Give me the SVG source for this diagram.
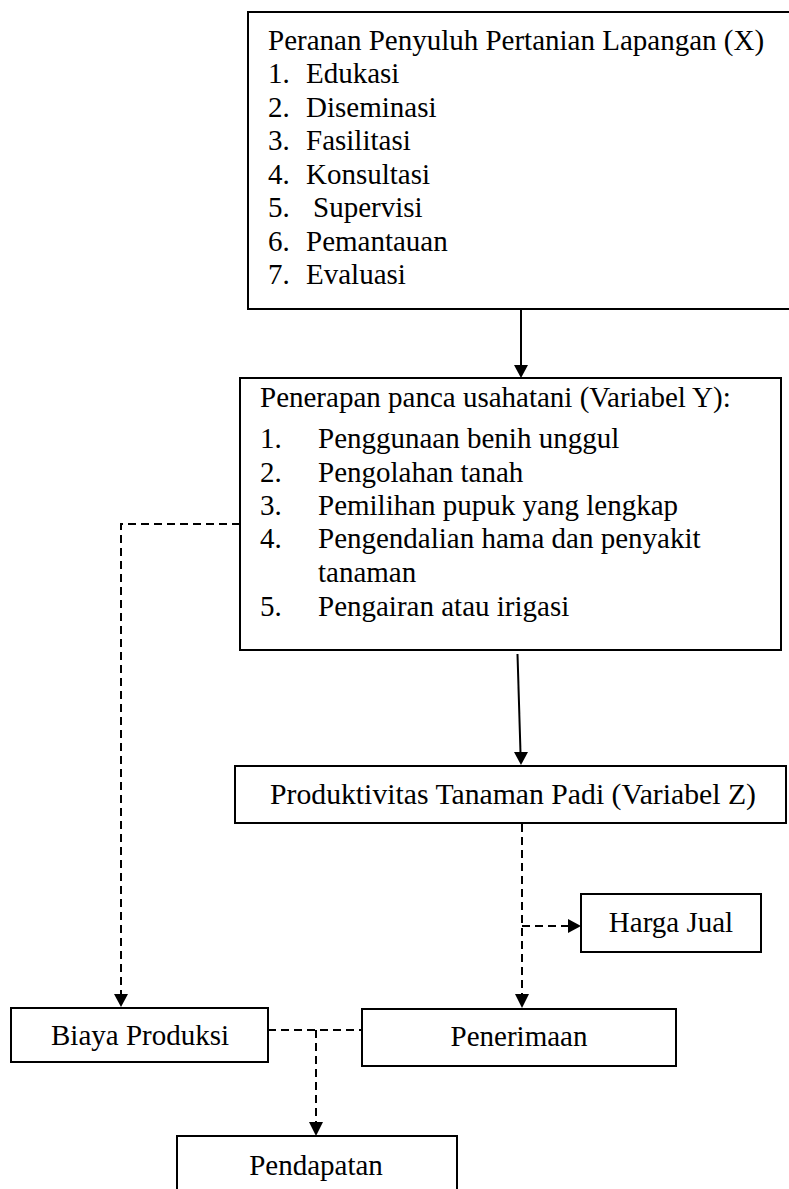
<svg xmlns="http://www.w3.org/2000/svg" width="789" height="1189" viewBox="0 0 789 1189">
<style>
.box{fill:#fff;stroke:#000;stroke-width:2}
.t{font-family:"Liberation Serif","Times New Roman",serif;font-size:29px;fill:#000}
.c{text-anchor:middle}
.solid{stroke:#000;stroke-width:2;fill:none}
.dash{stroke:#000;stroke-width:2;fill:none;stroke-dasharray:8 5}
.head{fill:#000}
</style>
<rect width="789" height="1189" fill="#fff"/>
<g id="connectors">
<line class="solid" x1="521" y1="309" x2="521" y2="366"/>
<polygon class="head" points="514,365 528,365 521,378"/>
<line class="solid" x1="517.5" y1="654" x2="520.5" y2="753"/>
<polygon class="head" points="514,752 528,752 521,765"/>
<polyline class="dash" points="240,524 121,524 121,995"/>
<polygon class="head" points="114,994 128,994 121,1007"/>
<line class="dash" x1="522" y1="824" x2="522" y2="995"/>
<polygon class="head" points="515,994 529,994 522,1008"/>
<line class="dash" x1="522" y1="926" x2="569" y2="926"/>
<polygon class="head" points="568,919 568,933 581,926"/>
<line class="dash" x1="268" y1="1030" x2="362" y2="1030"/>
<line class="dash" x1="316" y1="1030" x2="316" y2="1123"/>
<polygon class="head" points="309,1122 323,1122 316,1136"/>
</g>
<g id="node-x">
<rect class="box" x="248" y="12" width="560" height="297"/>
<text class="t" x="268" y="50">Peranan Penyuluh Pertanian Lapangan (X)</text>
<text class="t" x="268" y="83">1.</text><text class="t" x="306" y="83">Edukasi</text>
<text class="t" x="268" y="117">2.</text><text class="t" x="306" y="117">Diseminasi</text>
<text class="t" x="268" y="150">3.</text><text class="t" x="306" y="150">Fasilitasi</text>
<text class="t" x="268" y="184">4.</text><text class="t" x="306" y="184">Konsultasi</text>
<text class="t" x="268" y="217">5.</text><text class="t" x="313" y="217">Supervisi</text>
<text class="t" x="268" y="251">6.</text><text class="t" x="306" y="251">Pemantauan</text>
<text class="t" x="268" y="284">7.</text><text class="t" x="306" y="284">Evaluasi</text>
</g>
<g id="node-y">
<rect class="box" x="240" y="378" width="541" height="272"/>
<text class="t" x="260" y="407">Penerapan panca usahatani (Variabel Y):</text>
<text class="t" x="260" y="448">1.</text><text class="t" x="318" y="448">Penggunaan benih unggul</text>
<text class="t" x="260" y="482">2.</text><text class="t" x="318" y="482">Pengolahan tanah</text>
<text class="t" x="260" y="515">3.</text><text class="t" x="318" y="515">Pemilihan pupuk yang lengkap</text>
<text class="t" x="260" y="548">4.</text><text class="t" x="318" y="548">Pengendalian hama dan penyakit</text>
<text class="t" x="318" y="582">tanaman</text>
<text class="t" x="260" y="616">5.</text><text class="t" x="318" y="616">Pengairan atau irigasi</text>
</g>
<g id="node-z">
<rect class="box" x="235" y="766" width="551" height="57"/>
<text class="t c" x="513" y="804" textLength="486" lengthAdjust="spacingAndGlyphs">Produktivitas Tanaman Padi (Variabel Z)</text>
</g>
<g id="node-harga">
<rect class="box" x="581" y="894" width="180" height="58"/>
<text class="t c" x="671" y="932">Harga Jual</text>
</g>
<g id="node-biaya">
<rect class="box" x="11" y="1008" width="257" height="54"/>
<text class="t c" x="140" y="1045">Biaya Produksi</text>
</g>
<g id="node-penerimaan">
<rect class="box" x="362" y="1009" width="314" height="57"/>
<text class="t c" x="519" y="1046">Penerimaan</text>
</g>
<g id="node-pendapatan">
<rect class="box" x="177" y="1136" width="280" height="70"/>
<text class="t c" x="316" y="1175">Pendapatan</text>
</g>
</svg>
